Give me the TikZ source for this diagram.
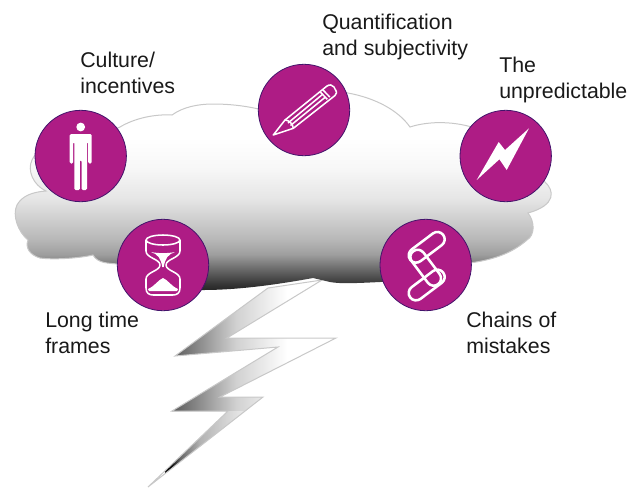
\documentclass[tikz,border=0pt]{standalone}
\usepackage{fontspec}
\setmainfont{Liberation Sans}
\usepackage{xcolor}
\usetikzlibrary{shapes.misc}
\definecolor{badge}{HTML}{AE1C85}
\definecolor{badgeline}{HTML}{43146B}
\definecolor{edgegray}{HTML}{C8C8C8}
\def\badgeradius{45.7}
\pgfdeclareverticalshading{cloudshade}{100bp}{
  color(0bp)=(black!85); color(25bp)=(black!85); color(26.3bp)=(black!80);
  color(30bp)=(black!60); color(33.9bp)=(black!38); color(37.7bp)=(black!28);
  color(47.8bp)=(black!10); color(55.5bp)=(black!3); color(63bp)=(white); color(100bp)=(white)}
\pgfdeclarehorizontalshading{boltshade}{100bp}{
  color(0bp)=(black!65); color(25bp)=(black!65); color(50bp)=(black!18);
  color(70bp)=(white); color(100bp)=(white)}
\pgfdeclarehorizontalshading{tipshade}{100bp}{
  color(0bp)=(black); color(27.5bp)=(black); color(32.5bp)=(black!60);
  color(42.5bp)=(black!30); color(62.5bp)=(black!10); color(100bp)=(black!10)}
\tikzset{
  badgenode/.style={circle, draw=badgeline, line width=0.6pt, fill=badge,
    minimum size=2*\badgeradius*0.75pt, inner sep=0pt},
  labelnode/.style={anchor=west, align=left, inner sep=0pt,
    font=\fontsize{16}{19.7}\selectfont, text=black!90},
  iconline/.style={draw=white, line width=1.15pt, line join=round},
  iconlink/.style={rounded rectangle, draw=white, line width=1.9pt,
    minimum width=31pt, minimum height=11pt, inner sep=0pt}
}
\def\cloudedge{(117,264) .. controls (110,263) and (98,264) .. (93,255)
  .. controls (80,258) and (55,260) .. (40,258)
  .. controls (30,255) and (25,248) .. (28,240)
  .. controls (18,232) and (12,215) .. (17,205)
  .. controls (22,196) and (32,192) .. (46,191)
  .. controls (33,185) and (27,170) .. (32,160)
  .. controls (40,140) and (90,140) .. (120,127)
  .. controls (135,118) and (155,114) .. (172,115)
  .. controls (183,107) and (198,104) .. (213,104)
  .. controls (230,104) and (250,106) .. (270,112)
  .. controls (290,90) and (325,90) .. (348,93)
  .. controls (375,98) and (398,110) .. (410,127)
  .. controls (425,122) and (450,120) .. (475,128)
  .. controls (510,130) and (530,160) .. (545,182)
  .. controls (554,190) and (557,205) .. (528,213)
  .. controls (535,222) and (535,235) .. (527,240)
  .. controls (510,255) and (490,260) .. (470,263)}
\begin{document}
\begin{tikzpicture}[x=0.75pt, y=-0.75pt]
\useasboundingbox (0,0) rectangle (643,487);
    \coordinate (b0) at (322,280);
    \coordinate (b1) at (268,288);
    \coordinate (b2) at (175,356);
    \coordinate (b3) at (278,347);
    \coordinate (b4) at (172,411);
    \coordinate (b5) at (228,411);
    \coordinate (b6) at (148,487);
    \coordinate (b7) at (263,397);
    \coordinate (b8) at (220,397);
    \coordinate (b9) at (336,338);
    \coordinate (b10) at (227,338);
% lightning
\begin{scope}
    \clip (b0) -- (b1) -- (b2) -- (b3) -- (b4) -- (b5) -- (b6) -- (b7) -- (b8) -- (b9) -- (b10) -- cycle;
    \shade[shading=boltshade] (172,270) rectangle (300,411);
    \fill[white] (300,270) rectangle (340,411);
    \shade[shading=tipshade] (165,411) rectangle (265,487);
\end{scope}
\draw[edgegray, line width=0.75pt, line join=miter] (b0) -- (b1) -- (b2) -- (b3) -- (b4) -- (b5) -- (b6) -- (b7) -- (b8) -- (b9) -- (b10) -- cycle;
% cloud
\shade[shading=cloudshade] \cloudedge
  .. controls (440,270) and (410,282) .. (380,282)
  .. controls (360,283) and (340,284) .. (330,282)
  -- (313,278)
  .. controls (280,284) and (240,290) .. (203,290)
  .. controls (170,290) and (140,278) .. (117,264) -- cycle;
\draw[edgegray, line width=0.75pt] \cloudedge;
% badges
\node[badgenode] (man) at (80.7,156) {};
\node[badgenode] (hourglass) at (163,265) {};
\node[badgenode] (pencil) at (304,110) {};
\node[badgenode] (flash) at (505.7,156) {};
\node[badgenode] (chain) at (425.7,265) {};
\begin{scope}[shift={(man.center)}]
    \fill[white] (0,-29) circle (4.4);
    \fill[white, rounded corners=1pt] (-11,-22) -- (11,-22) -- (11,7.5) -- (7.5,7.5) -- (7.5,-14)
      -- (6.3,-14) -- (6.3,34) -- (0.8,34) -- (0.8,4) -- (-0.8,4) -- (-0.8,34) -- (-6.3,34)
      -- (-6.3,-14) -- (-7.5,-14) -- (-7.5,7.5) -- (-11,7.5) -- cycle;
\end{scope}
\begin{scope}[shift={(hourglass.center)}]
    \draw[iconline] (0,-25) ellipse (17 and 5);
    \draw[iconline] (-17,-25) -- (-17,-14) .. controls (-17,-7) and (-3,-6) .. (-3,0)
      .. controls (-3,6) and (-17,7) .. (-17,14) -- (-17,23) .. controls (-17,28) and (-14,30) .. (-10,30)
      -- (10,30) .. controls (14,30) and (17,28) .. (17,23) -- (17,14)
      .. controls (17,7) and (3,6) .. (3,0) .. controls (3,-6) and (17,-7) .. (17,-14) -- (17,-25);
    \fill[white] (-12,-13) .. controls (-5,-11) and (-2,-6) .. (-0.7,2) -- (0.7,2)
      .. controls (2,-6) and (5,-11) .. (12,-13) .. controls (5,-11.5) and (-5,-11.5) .. (-12,-13) -- cycle;
    \fill[white] (-14,26) -- (14,26) -- (15,24) .. controls (8,21) and (5,15) .. (0,13)
      .. controls (-5,15) and (-8,21) .. (-15,24) -- cycle;
\end{scope}
\begin{scope}[shift={(pencil.center)}]
    \draw[iconline] (-30.7,25) -- (-19,10) -- (23,-24) .. controls (26,-26) and (28,-25) .. (30,-23)
      -- (31,-21) .. controls (33,-18) and (33,-16) .. (31,-14.5) -- (-10.7,18.3) -- cycle;
    \draw[iconline] (16,-18.3) -- (23.3,-10.7);
    \draw[iconline] (18.5,-20.5) -- (25.8,-13);
    \draw[iconline] (-16,13) -- (19,-16);
    \draw[iconline] (-13.5,15.5) -- (21.5,-13);
    \draw[iconline] (-19,10) .. controls (-15,10) and (-11,14) .. (-10.7,18.3);
\end{scope}
\begin{scope}[shift={(flash.center)}]
    \fill[white] (-29,24) -- (-7,-14) -- (-0.7,-6) -- (23.3,-27.7) -- (1,14) -- (-6.3,3.3) -- cycle;
\end{scope}
\begin{scope}[shift={(chain.center)}]
    \node[iconlink, rotate=37] (link1) at (1,-17.7) {};
    \node[iconlink, rotate=-53] (link2) at (0,2.7) {};
    \node[iconlink, rotate=37] (link3) at (1,20) {};
\end{scope}
% labels
\node[labelnode] (quantlabel) at (322,37) {Quantification\\and subjectivity};
\node[labelnode] (culturelabel) at (80,73) {Culture/\\incentives};
\node[labelnode] (unpredlabel) at (499,80) {The\\unpredictable};
\node[labelnode] (timelabel) at (45,333) {Long time\\frames};
\node[labelnode] (chainlabel) at (466,333) {Chains of\\mistakes};
\end{tikzpicture}
\end{document}
